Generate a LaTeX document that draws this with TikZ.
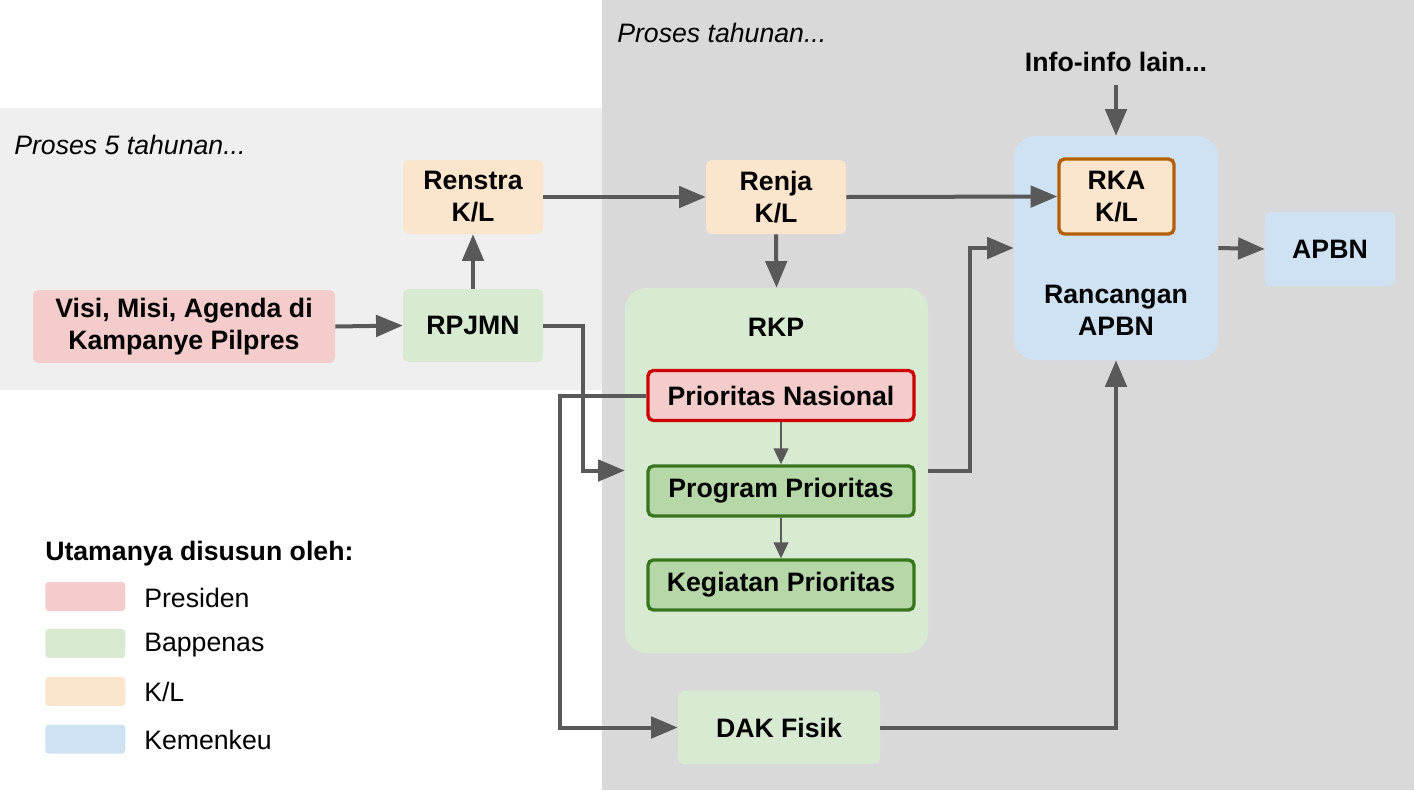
\documentclass[tikz,border=0pt]{standalone}
\usepackage{fontspec}
\setmainfont{Liberation Sans}
\usetikzlibrary{arrows.meta}
\definecolor{bgl}{HTML}{EFEFEF}
\definecolor{bgd}{HTML}{D9D9D9}
\definecolor{cpink}{HTML}{F4CCCC}
\definecolor{cgreen}{HTML}{D9EAD3}
\definecolor{corange}{HTML}{FCE5CD}
\definecolor{cblue}{HTML}{CFE2F3}
\definecolor{cgreenm}{HTML}{B6D7A8}
\definecolor{cgreend}{HTML}{38761D}
\definecolor{cred}{HTML}{CC0000}
\definecolor{cbrown}{HTML}{B45F06}
\definecolor{arrc}{HTML}{595959}
\tikzset{
  txt/.style={font=\fontsize{20}{24}\selectfont, text=black},
  btxt/.style={font=\fontsize{20}{24}\selectfont\bfseries, text=black, align=center},
  box/.style={btxt, rounded corners=4pt, inner sep=0pt},
  cont/.style={rounded corners=16pt, inner sep=0pt},
  arr/.style={draw=arrc, line width=3pt, -{Triangle[length=20pt,width=16pt]}},
  tarr/.style={draw=arrc, line width=1.5pt, -{Triangle[length=12pt,width=11pt]}},
  swatch/.style={rounded corners=2.5pt, inner sep=0pt, minimum width=80*0.75pt, minimum height=29*0.75pt},
}
\begin{document}
\begin{tikzpicture}[x=0.75pt,y=-0.75pt]
\useasboundingbox (0,0) rectangle (1414,790);
\fill[bgl] (0,108) rectangle (602,390);
\fill[bgd] (602,0) rectangle (1414,790);

\node[txt, font=\fontsize{20}{24}\selectfont\itshape, anchor=west, inner sep=0pt] (t5) at (14,145) {Proses 5 tahunan...};
\node[txt, font=\fontsize{20}{24}\selectfont\itshape, anchor=west, inner sep=0pt] (t1) at (617,33) {Proses tahunan...};

% containers
\node[cont, fill=cgreen, minimum width=303*0.75pt, minimum height=365*0.75pt] (rkp) at (776.5,470.5) {};
\node[btxt] (rkpl) at (776,327) {RKP};
\node[cont, fill=cblue, minimum width=204*0.75pt, minimum height=224*0.75pt] (ranc) at (1116,248) {};
\node[btxt] (rancl) at (1116,310) {Rancangan\\APBN};

% boxes
\node[box, fill=corange, minimum width=140*0.75pt, minimum height=74*0.75pt] (renstra) at (473,197) {Renstra\\K/L};
\node[box, fill=cpink, minimum width=302*0.75pt, minimum height=73*0.75pt] (visi) at (184,326.5) {Visi, Misi, Agenda di\\Kampanye Pilpres};
\node[box, fill=cgreen, minimum width=140*0.75pt, minimum height=73*0.75pt] (rpjmn) at (473,325.5) {RPJMN};
\node[box, fill=corange, minimum width=140*0.75pt, minimum height=74*0.75pt] (renja) at (776,197) {Renja\\K/L};
\node[box, fill=cpink, draw=cred, line width=2.5pt, minimum width=266*0.75pt, minimum height=50*0.75pt] (pn) at (781,395.5) {Prioritas Nasional};
\node[box, fill=cgreenm, draw=cgreend, line width=2.5pt, minimum width=266*0.75pt, minimum height=50*0.75pt] (pp) at (781,491) {Program Prioritas};
\node[box, fill=cgreenm, draw=cgreend, line width=2.5pt, minimum width=266*0.75pt, minimum height=50*0.75pt] (kp) at (781,585) {Kegiatan Prioritas};
\node[box, fill=corange, draw=cbrown, line width=2.5pt, minimum width=115*0.75pt, minimum height=75*0.75pt] (rka) at (1116.5,196.5) {RKA\\K/L};
\node[box, fill=cblue, minimum width=130*0.75pt, minimum height=74*0.75pt] (apbn) at (1330,249) {APBN};
\node[box, fill=cgreen, minimum width=202*0.75pt, minimum height=73*0.75pt] (dak) at (779,727.5) {DAK Fisik};
\node[btxt] (info) at (1116,62) {Info-info lain...};

% connectors
\coordinate (c1) at (583,0);
\coordinate (c2) at (970,0);
\coordinate (c3) at (560,0);
\draw[arr] (visi.east) -- (rpjmn.west);
\draw[arr] (rpjmn.north) -- (renstra.south);
\draw[arr] (renstra.east) -- (renja.west);
\draw[arr] (renja.east) -- (rka.west);
\draw[arr] (renja.south) -- (rkp.north);
\draw[arr] (rpjmn.east) -- (rpjmn.east -| c1) -- (c1 |- rkp.west) -- (rkp.west);
\draw[arr] (rkp.east) -- (rkp.east -| c2) -- (c2 |- ranc.west) -- (ranc.west);
\draw[arr] (pn.west) -- (pn.west -| c3) -- (c3 |- dak.west) -- (dak.west);
\draw[arr] (dak.east) -| (ranc.south);
\draw[arr, shorten <=6pt] (info.south) -- (ranc.north);
\draw[arr] (ranc.east) -- (apbn.west);
\draw[tarr] (pn.south) -- (pp.north);
\draw[tarr] (pp.south) -- (kp.north);

% legend
\node[btxt, anchor=west, inner sep=0pt] (lt) at (45,554) {Utamanya disusun oleh:};
\node[swatch, fill=cpink, anchor=west] (s1) at (45,596.5) {};
\node[swatch, fill=cgreen, anchor=west] (s2) at (45,643.5) {};
\node[swatch, fill=corange, anchor=west] (s3) at (45,691.5) {};
\node[swatch, fill=cblue, anchor=west] (s4) at (45,739) {};
\node[txt, anchor=west, inner sep=0pt] (l1) at (144,598) {Presiden};
\node[txt, anchor=west, inner sep=0pt] (l2) at (144,645) {Bappenas};
\node[txt, anchor=west, inner sep=0pt] (l3) at (144,692) {K/L};
\node[txt, anchor=west, inner sep=0pt] (l4) at (144,740) {Kemenkeu};
\end{tikzpicture}
\end{document}
